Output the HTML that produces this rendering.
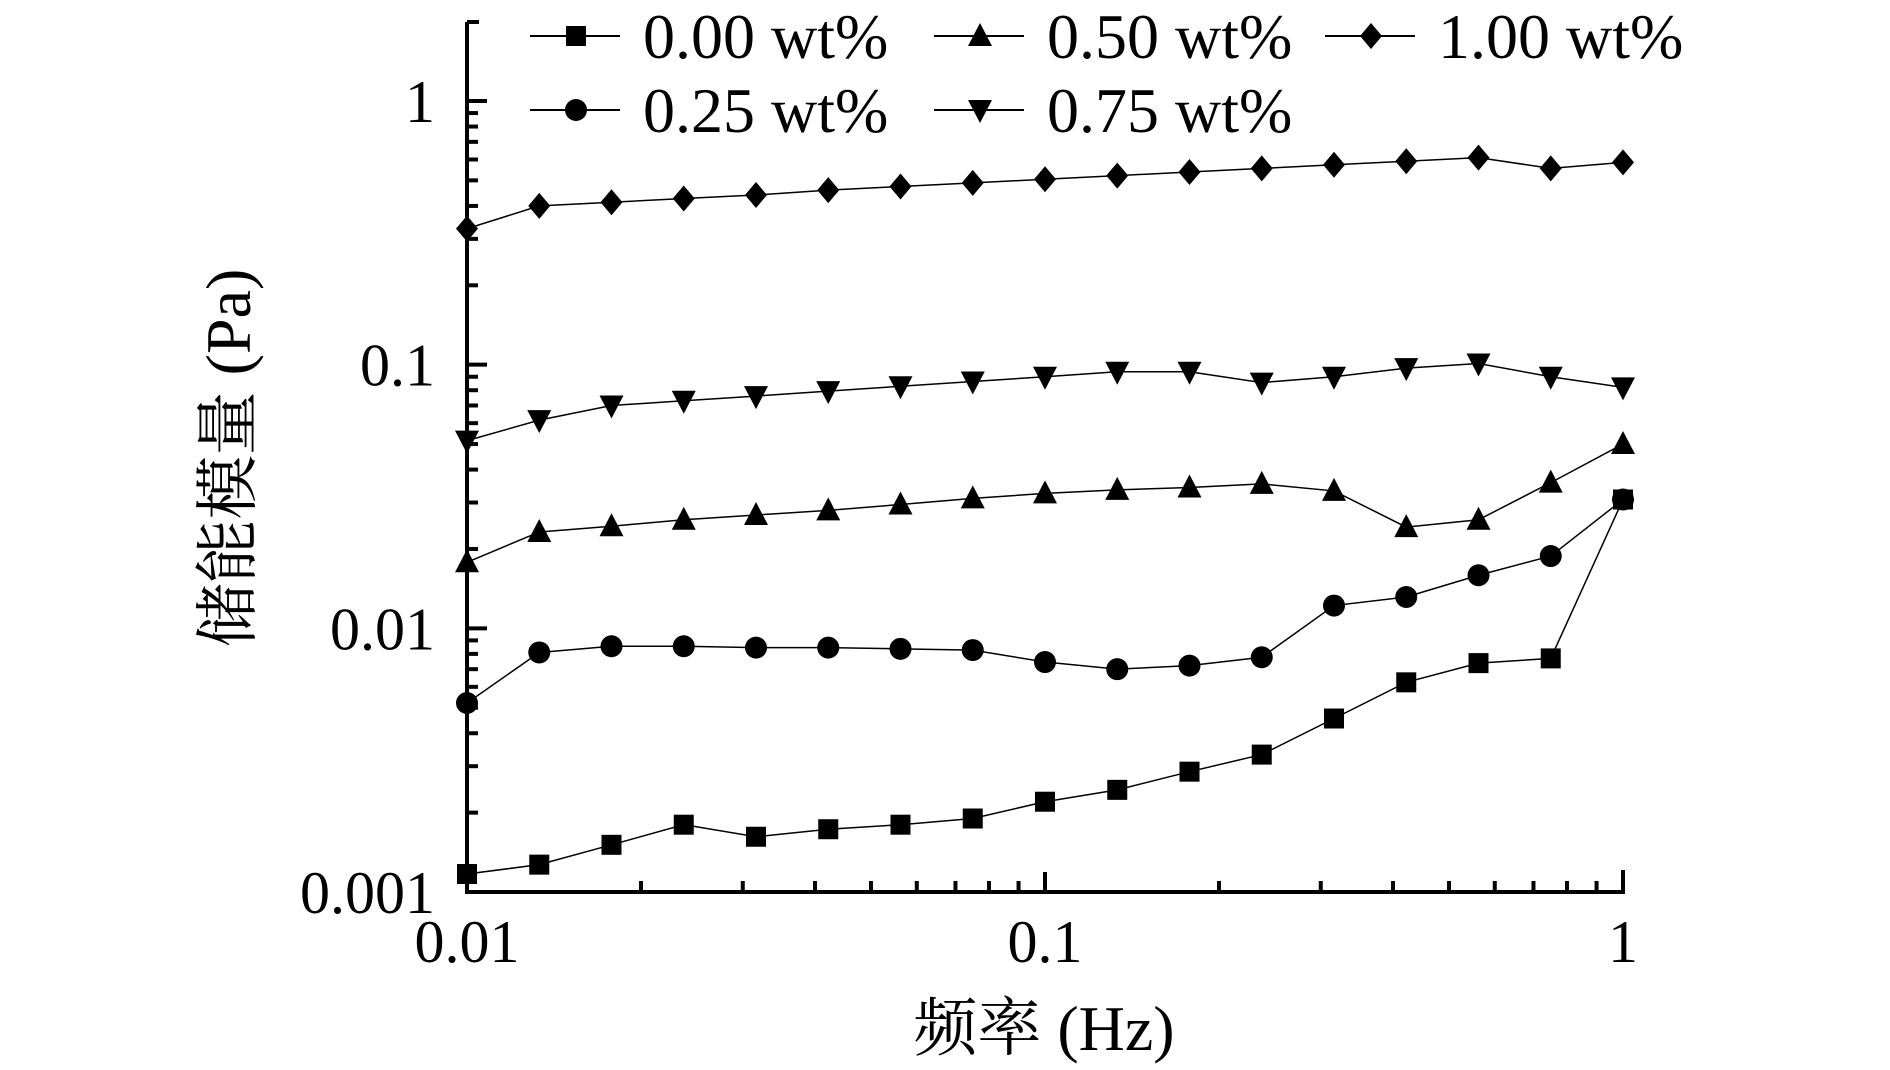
<!DOCTYPE html>
<html><head><meta charset="utf-8"><style>
html,body{margin:0;padding:0;background:#fff;}
svg{display:block;}
text{font-family:"Liberation Serif","Noto Serif CJK SC",serif;fill:#000;}
</style></head><body>
<svg id="chart" width="1890" height="1070" viewBox="0 0 1890 1070">
<g id="axes"></g>
<g id="series"></g>
<g id="legend"></g>
<text x="1044" y="1050" font-size="64" text-anchor="middle">频率 (Hz)</text>
<text transform="translate(250,458) rotate(-90)" font-size="64" text-anchor="middle">储能模量 (Pa)</text>
</svg>
<script>
const freqExp = [-2,-1.875,-1.75,-1.625,-1.5,-1.375,-1.25,-1.125,-1,-0.875,-0.75,-0.625,-0.5,-0.375,-0.25,-0.125,0];
const seriesNames = ["0.00 wt%","0.25 wt%","0.50 wt%","0.75 wt%","1.00 wt%"];
const s000 = [0.00117,0.00127,0.00151,0.0018,0.00162,0.00173,0.0018,0.0019,0.0022,0.00244,0.00286,0.00332,0.00455,0.00624,0.00738,0.00769,0.0308];
const s025 = [0.00521,0.0081,0.00855,0.00855,0.00845,0.00845,0.00836,0.00827,0.00745,0.0070,0.00722,0.00777,0.0122,0.01315,0.0159,0.0188,0.0308];
const s050 = [0.0178,0.0232,0.0244,0.0258,0.0269,0.028,0.0295,0.0311,0.0325,0.0335,0.0342,0.0353,0.0332,0.0242,0.0258,0.0357,0.05];
const s075 = [0.0515,0.0616,0.070,0.073,0.076,0.0794,0.0828,0.0863,0.090,0.094,0.094,0.0855,0.090,0.097,0.101,0.090,0.082];
const s100 = [0.328,0.40,0.413,0.427,0.44,0.459,0.474,0.489,0.505,0.521,0.538,0.555,0.573,0.591,0.61,0.555,0.585];
const xTickLabels = ["0.01","0.1","1"];
const xTickVals = [0.01,0.1,1];
const yTickLabels = ["0.001","0.01","0.1","1"];
const yTickVals = [0.001,0.01,0.1,1];

const NS="http://www.w3.org/2000/svg";
const X0=467,X1=1623,Y0=892,Y1=101;
function xs(v){return X0+(Math.log10(v)+2)/2*(X1-X0);}
function ys(v){return Y0-(Math.log10(v)+3)/3*(Y0-Y1);}
function mk(tag,attrs,parent){const e=document.createElementNS(NS,tag);for(const k in attrs)e.setAttribute(k,attrs[k]);parent.appendChild(e);return e;}
const axes=document.getElementById('axes');
let a=mk('path',{d:`M${X0} 22 V${Y0} H${X1} V${Y0-22}`,fill:'none',stroke:'#000','stroke-width':4},axes);


mk('line',{x1:X0,y1:22,x2:X0+12,y2:22,stroke:'#000','stroke-width':4},axes);
for(let d=-3;d<=0;d++){
  for(let m=1;m<=9;m++){
    const v=m*Math.pow(10,d);const y=ys(v);
    if(y<22)break;
    const len=m===1?20:11;
    const t=mk('line',{x1:X0,y1:y,x2:X0+len,y2:y,stroke:'#000','stroke-width':4},axes);
    
    
  }
}
for(let d=0;d<2;d++)for(let m=1;m<=9;m++){
  const v=m*Math.pow(10,d-2);const x=xs(v);
  const len=m===1?20:11;
  const t=mk('line',{x1:x,y1:Y0,x2:x,y2:Y0-len,stroke:'#000','stroke-width':4},axes);
  
  
}
yTickVals.forEach((v,i)=>{
  const t=mk('text',{x:435,y:ys(v)+21,'font-size':60,'text-anchor':'end'},axes);
  t.textContent=yTickLabels[i];
  
  
});
xTickVals.forEach((v,i)=>{
  const t=mk('text',{x:xs(v),y:962,'font-size':60,'text-anchor':'middle'},axes);
  t.textContent=xTickLabels[i];
  
  
});
function marker(type,cx,cy,parent){
  let e;
  if(type==='square')e=mk('rect',{x:cx-10,y:cy-10,width:20,height:20},parent);
  else if(type==='circle')e=mk('circle',{cx:cx,cy:cy,r:11},parent);
  else if(type==='up')e=mk('polygon',{points:`${cx},${cy-13} ${cx+12},${cy+10} ${cx-12},${cy+10}`},parent);
  else if(type==='down')e=mk('polygon',{points:`${cx},${cy+13} ${cx+12},${cy-10} ${cx-12},${cy-10}`},parent);
  else e=mk('polygon',{points:`${cx},${cy-13} ${cx+11},${cy} ${cx},${cy+13} ${cx-11},${cy}`},parent);
  e.setAttribute('fill','#000');
  return e;
}
const allSeries=[s000,s025,s050,s075,s100];
const types=['square','circle','up','down','diamond'];
const sg=document.getElementById('series');
allSeries.forEach((s,si)=>{
  const g=mk('g',{},sg);
  
  
  const pts=s.map((v,i)=>`${xs(Math.pow(10,freqExp[i]))},${ys(v)}`).join(' ');
  mk('polyline',{points:pts,fill:'none',stroke:'#000','stroke-width':1.5},g);
  s.forEach((v,i)=>{
    const m=marker(types[si],xs(Math.pow(10,freqExp[i])),ys(v),g);
    
    
  });
});
const lg=document.getElementById('legend');
const legPos=[[530,36],[530,110],[934,36],[934,110],[1325,36]];
legPos.forEach((p,i)=>{
  const g=mk('g',{},lg);
  
  
  mk('line',{x1:p[0],y1:p[1],x2:p[0]+90,y2:p[1],stroke:'#000','stroke-width':2},g);
  marker(types[i],p[0]+46,p[1],g);
  const t=mk('text',{x:p[0]+113,y:p[1]+22,'font-size':64},g);
  t.textContent=seriesNames[i];
});
</script>
</body></html>
